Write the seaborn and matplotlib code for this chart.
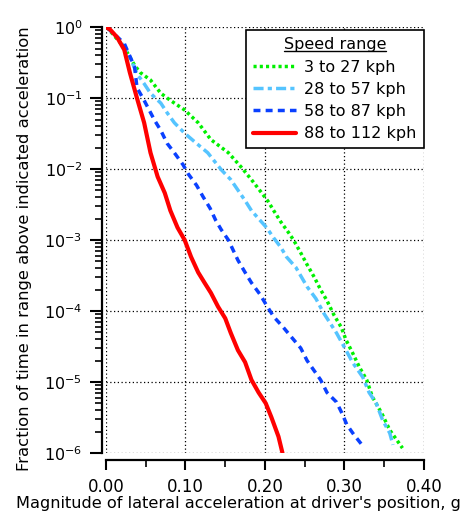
import numpy as np
import pandas as pd
import matplotlib
matplotlib.use("Agg")
import matplotlib.pyplot as plt
import matplotlib.ticker as mticker
from matplotlib.lines import Line2D
import seaborn as sns

# Data (x in g, y = fraction of time above)
x_low = [0.001, 0.023, 0.036, 0.043, 0.056, 0.069, 0.081, 0.099, 0.116, 0.132, 0.154,
         0.170, 0.183, 0.196, 0.204, 0.211, 0.220, 0.230, 0.236, 0.245, 0.253, 0.262,
         0.270, 0.278, 0.287, 0.296, 0.302, 0.310, 0.319, 0.328, 0.335, 0.347, 0.357, 0.373]
y_low = [1.0, 0.52, 0.29, 0.23, 0.18, 0.117, 0.093, 0.068, 0.045, 0.026, 0.017,
         0.0107, 7.1e-3, 4.6e-3, 3.5e-3, 2.6e-3, 1.8e-3, 1.26e-3, 1.0e-3, 6.6e-4, 4.5e-4, 3.0e-4,
         2.0e-4, 1.4e-4, 8.7e-5, 5.9e-5, 3.9e-5, 2.6e-5, 1.6e-5, 1.07e-5, 6.2e-6, 3.6e-6, 2.1e-6, 1.17e-6]

x_mid = [0.001, 0.018, 0.030, 0.039, 0.048, 0.056, 0.069, 0.077, 0.086, 0.099, 0.112,
         0.128, 0.145, 0.157, 0.175, 0.183, 0.192, 0.202, 0.211, 0.220, 0.227, 0.239,
         0.246, 0.253, 0.264, 0.274, 0.290, 0.302, 0.310, 0.323, 0.331, 0.340, 0.348, 0.357, 0.361]
y_mid = [1.0, 0.66, 0.38, 0.22, 0.16, 0.117, 0.085, 0.062, 0.045, 0.032, 0.024,
         0.017, 9.8e-3, 7.1e-3, 3.6e-3, 2.6e-3, 2.0e-3, 1.5e-3, 1.07e-3, 7.9e-4, 5.8e-4, 4.1e-4,
         3.0e-4, 2.2e-4, 1.5e-4, 9.3e-5, 4.9e-5, 2.8e-5, 1.9e-5, 1.17e-5, 7.1e-6, 5.0e-6, 2.9e-6, 1.9e-6, 1.3e-6]

x_high = [0.001, 0.023, 0.036, 0.039, 0.048, 0.061, 0.069, 0.077, 0.086, 0.097, 0.103, 0.114,
          0.122, 0.131, 0.138, 0.145, 0.154, 0.160, 0.166, 0.175, 0.183, 0.194, 0.202, 0.211,
          0.223, 0.234, 0.245, 0.253, 0.270, 0.278, 0.290, 0.297, 0.303, 0.312, 0.323]
y_high = [1.0, 0.59, 0.275, 0.14, 0.093, 0.049, 0.035, 0.023, 0.017, 0.0115, 8.7e-3, 5.9e-3,
          4.1e-3, 2.8e-3, 1.9e-3, 1.4e-3, 1.0e-3, 7.2e-4, 5.2e-4, 3.5e-4, 2.5e-4, 1.7e-4, 1.2e-4, 8.3e-5,
          5.9e-5, 4.2e-5, 3.0e-5, 2.0e-5, 1.07e-5, 7.1e-6, 5.2e-6, 3.6e-6, 2.5e-6, 1.8e-6, 1.26e-6]

x_top = [0.0, 0.005, 0.014, 0.023, 0.030, 0.039, 0.048, 0.056, 0.065, 0.074, 0.081, 0.090,
         0.099, 0.107, 0.116, 0.124, 0.132, 0.141, 0.150, 0.157, 0.166, 0.175, 0.183, 0.192,
         0.201, 0.208, 0.217, 0.222]
y_top = [1.0, 0.93, 0.72, 0.48, 0.23, 0.10, 0.045, 0.017, 7.8e-3, 4.6e-3, 2.6e-3, 1.5e-3,
         1.0e-3, 5.8e-4, 3.5e-4, 2.5e-4, 1.8e-4, 1.15e-4, 7.9e-5, 4.9e-5, 2.8e-5, 1.9e-5, 1.07e-5, 7.1e-6,
         5.0e-6, 3.2e-6, 1.7e-6, 1.0e-6]

labels = ["3 to 27 kph", "28 to 57 kph", "58 to 87 kph", "88 to 112 kph"]
colors = ["#00f000", "#55c4ff", "#0a40ff", "#ff0000"]
dashes = [(0.9, 0.9), (2.9, 1.2, 1.2, 1.2), (2.0, 1.5), ""]
widths = [2.5, 2.5, 2.5, 3.0]

y_ticks = [1e-6, 1e-5, 1e-4, 1e-3, 1e-2, 1e-1, 1e0]

sns.set_style("ticks")
plt.rcParams['font.family'] = ['DejaVu Sans']
plt.rcParams['mathtext.fontset'] = 'dejavusans'
for k in ['text.color', 'axes.labelcolor', 'xtick.color', 'ytick.color', 'axes.edgecolor']:
    plt.rcParams[k] = 'black'

fig = plt.figure(figsize=(4.70, 5.23), dpi=100)
ax = fig.add_axes([0.2255, 0.134, 0.902 - 0.2255, 0.948 - 0.134])

series = [(x_low, y_low), (x_mid, y_mid), (x_high, y_high), (x_top, y_top)]
for (xs, ys), lab, col, ds, lw in zip(series, labels, colors, dashes, widths):
    df = pd.DataFrame({"x": xs, "y": ys})
    sns.lineplot(data=df, x="x", y="y", ax=ax, color=col, linewidth=lw, label=lab)
    line = ax.get_lines()[-1]
    if ds:
        line.set_dashes(ds)
        line.set_dash_capstyle("butt")

ax.set_yscale("log")
ax.set_xlim(0, 0.40)
ax.set_ylim(1e-6, 1)

ax.xaxis.set_major_locator(mticker.MultipleLocator(0.1))
ax.xaxis.set_minor_locator(mticker.MultipleLocator(0.05))
ax.xaxis.set_major_formatter(mticker.FormatStrFormatter("%.2f"))
ax.yaxis.set_major_locator(mticker.FixedLocator(y_ticks))
ax.yaxis.set_major_formatter(mticker.LogFormatterSciNotation())
ax.yaxis.set_minor_locator(mticker.LogLocator(base=10, subs=np.arange(2, 10), numticks=10))
ax.yaxis.set_minor_formatter(mticker.NullFormatter())

ax.grid(True, which="major", color="black", linestyle=(0, (1, 2)), linewidth=0.9)
for gl in ax.get_xgridlines() + ax.get_ygridlines():
    gl.set_clip_on(False)

ax.spines["top"].set_visible(False)
ax.spines["right"].set_visible(False)
ax.spines["left"].set_position(("outward", 3))
ax.spines["bottom"].set_position(("outward", 5))
ax.spines["left"].set_linewidth(1.6)
ax.spines["bottom"].set_linewidth(1.6)
ax.tick_params(axis="x", which="major", direction="out", length=7, width=1.5,
               labelsize=12, pad=6)
ax.tick_params(axis="y", which="major", direction="out", length=9, width=1.5,
               labelsize=11.5, pad=5)
ax.tick_params(axis="both", which="minor", direction="out", length=5, width=1.2)

ax.set_xlabel("Magnitude of lateral acceleration at driver's position, g", fontsize=11.6)
ax.xaxis.set_label_coords(0.418, -0.101)
ax.set_ylabel("Fraction of time in range above indicated acceleration", fontsize=11.8)
ax.yaxis.set_label_coords(-0.233, 0.479)

leg = ax.legend(title="Speed range", loc="upper right", bbox_to_anchor=(1.0, 0.993),
                frameon=True, fancybox=False, fontsize=11.5, title_fontsize=11.5,
                handlelength=2.7, handletextpad=0.5, borderpad=0.45, labelspacing=0.45,
                borderaxespad=0.0)
leg.get_frame().set_edgecolor("black")
leg.get_frame().set_linewidth(1.2)
leg.get_frame().set_alpha(1)

fig.canvas.draw()
bb = leg.get_title().get_window_extent().transformed(fig.transFigure.inverted())
fig.add_artist(Line2D([bb.x0, bb.x1], [bb.y0 + 0.002, bb.y0 + 0.002], color="black",
                      linewidth=1.0, transform=fig.transFigure))

fig.savefig("out.png", dpi=100)
